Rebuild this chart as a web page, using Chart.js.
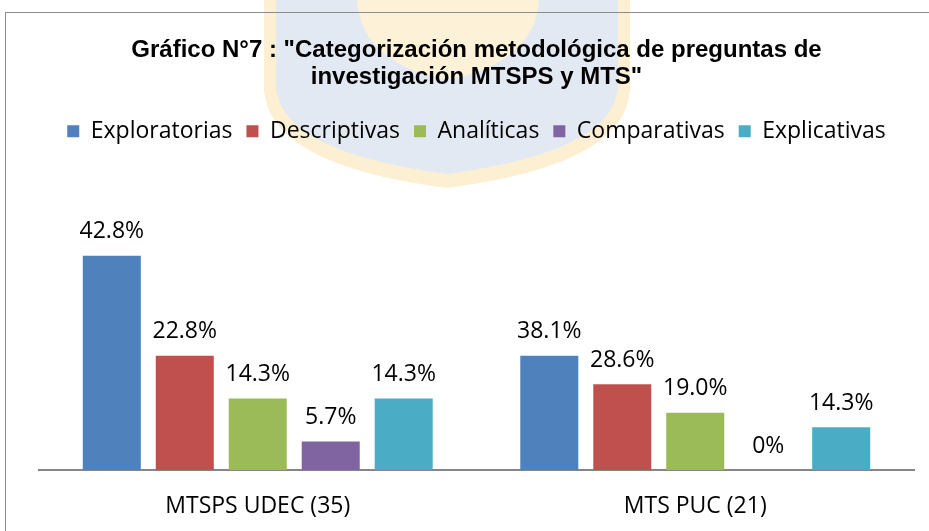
<!DOCTYPE html>
<html>
<head>
<meta charset="utf-8">
<script src="https://cdn.jsdelivr.net/npm/chart.js@4"></script>
<style>
  html, body { margin: 0; padding: 0; background: #fff; overflow: hidden; }
  #wrap { position: relative; width: 929px; height: 531px; }
  #chart1 { position: absolute; left: 0; top: 0; }
  #frame { position: absolute; left: 5px; top: 12px; width: 1000px; height: 600px; border: 1px solid #8c8c8c; pointer-events: none; }
</style>
</head>
<body>
<div id="wrap">
  <canvas id="chart1" width="929" height="531"></canvas>
  <div id="frame"></div>
</div>
<script>
// categories (x axis) and series
const categories = ['MTSPS UDEC (35)', 'MTS PUC (21)'];
const seriesNames = ['Exploratorias', 'Descriptivas', 'Analíticas', 'Comparativas', 'Explicativas'];
const seriesColors = ['#4F81BD', '#C0504D', '#9BBB59', '#8064A2', '#4BACC6'];

// number of questions per type (bar heights)
const exploratorias = [15, 8];
const descriptivas = [8, 6];
const analiticas = [5, 4];
const comparativas = [2, 0];
const explicativas = [5, 3];

// percentages printed above the bars
const exploratoriasPct = ['42.8%', '38.1%'];
const descriptivasPct = ['22.8%', '28.6%'];
const analiticasPct = ['14.3%', '19.0%'];
const comparativasPct = ['5.7%', '0%'];
const explicativasPct = ['14.3%', '14.3%'];

const values = [exploratorias, descriptivas, analiticas, comparativas, explicativas];
const pctLabels = [exploratoriasPct, descriptivasPct, analiticasPct, comparativasPct, explicativasPct];

const labelFont = '"Open Sans", "Noto Sans", sans-serif';

// faint university crest behind the chart
const watermark = {
    id: 'watermark',
    beforeDraw(chart) {
        const c = chart.ctx;
        c.save();
        // outer yellow rim
        c.beginPath();
        c.moveTo(264, 0);
        c.lineTo(630, 0);
        c.lineTo(630, 90);
        c.quadraticCurveTo(625, 165, 447, 188);
        c.quadraticCurveTo(269, 165, 264, 90);
        c.closePath();
        c.fillStyle = '#fdf0d2';
        c.fill();
        // blue shield
        c.beginPath();
        c.moveTo(276, 0);
        c.lineTo(618, 0);
        c.lineTo(618, 88);
        c.quadraticCurveTo(612, 152, 447, 174);
        c.quadraticCurveTo(282, 152, 276, 88);
        c.closePath();
        c.fillStyle = '#e3e9f2';
        c.fill();
        // torch
        c.beginPath();
        c.moveTo(357, 0);
        c.lineTo(539, 0);
        c.quadraticCurveTo(535, 60, 455, 78);
        c.lineTo(439, 78);
        c.quadraticCurveTo(361, 60, 357, 0);
        c.closePath();
        c.fillStyle = '#fdf1d8';
        c.fill();
        c.restore();
    }
};

// draws the percentage text above every bar
const barLabels = {
    id: 'barLabels',
    afterDatasetsDraw(chart) {
        const c = chart.ctx;
        c.save();
        c.font = '23px ' + labelFont;
        c.fillStyle = '#000';
        c.textAlign = 'center';
        c.textBaseline = 'middle';
        chart.data.datasets.forEach((ds, i) => {
            chart.getDatasetMeta(i).data.forEach((bar, j) => {
                c.fillText(pctLabels[i][j], bar.x, bar.y - 24);
            });
        });
        c.restore();
    }
};

const ctx = document.getElementById('chart1');

new Chart(ctx, {
    type: 'bar',
    data: {
        labels: categories,
        datasets: seriesNames.map((name, i) => ({
            label: name,
            data: values[i],
            backgroundColor: seriesColors[i],
            borderWidth: 0,
            barPercentage: 0.795,
            categoryPercentage: 0.834
        }))
    },
    options: {
        responsive: false,
        animation: false,
        layout: {
            padding: { top: 10, left: 39, right: 15, bottom: 0 }
        },
        plugins: {
            title: {
                display: true,
                text: ['Gráfico N°7 : "Categorización metodológica de preguntas de', 'investigación MTSPS y MTS"'],
                color: '#000',
                font: { family: '"Liberation Sans", Arial, sans-serif', size: 24, weight: 'bold', lineHeight: 1.12 },
                padding: { top: 27, bottom: 15 }
            },
            legend: {
                display: true,
                labels: {
                    color: '#000',
                    font: { family: labelFont, size: 23 },
                    boxWidth: 12,
                    boxHeight: 12,
                    padding: 14
                }
            },
            tooltip: { enabled: false }
        },
        scales: {
            x: {
                grid: { display: false },
                border: { display: true, color: '#868686', width: 2 },
                ticks: { color: '#000', font: { family: labelFont, size: 23 }, padding: 15 },
                afterFit(scale) { scale.height = 61; }
            },
            y: {
                display: false,
                min: 0,
                max: 22.2
            }
        }
    },
    plugins: [watermark, barLabels]
});
</script>
</body>
</html>
